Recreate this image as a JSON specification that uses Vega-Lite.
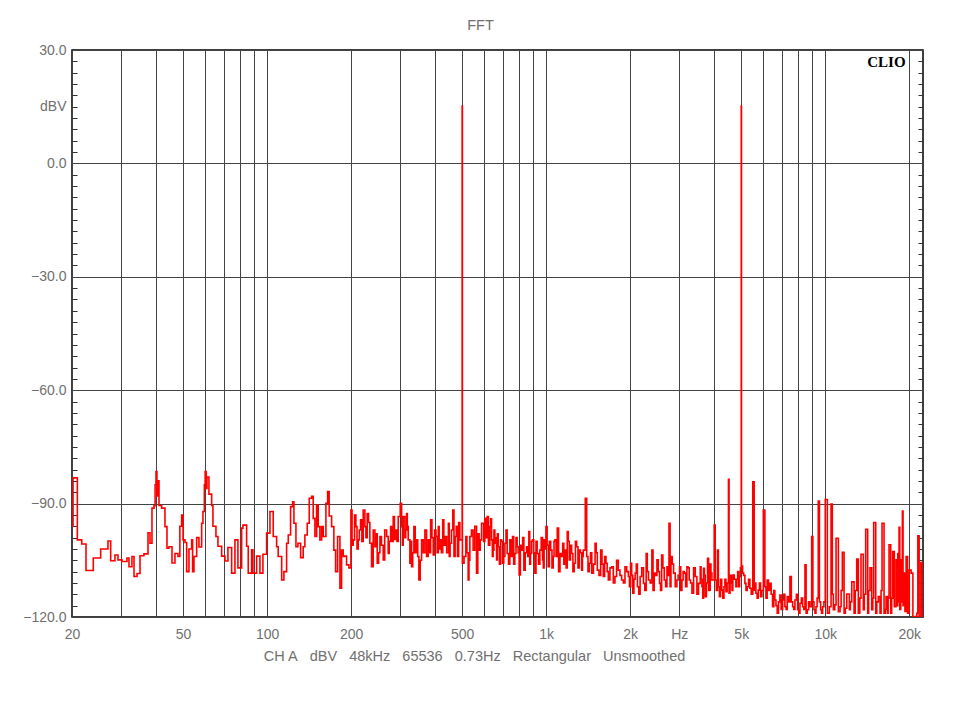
{
  "$schema": "https://vega.github.io/schema/vega-lite/v6.json",
  "width": 851,
  "height": 567,
  "autosize": "none",
  "padding": {"left": 72, "top": 50, "right": 37, "bottom": 103},
  "background": "white",
  "title": {"text": "FFT", "anchor": "middle", "fontSize": 14.5, "fontWeight": "normal", "font": "Liberation Sans", "color": "#707070", "offset": 10, "dx": -17},
  "config": {"view": {"stroke": "black", "strokeWidth": 1.5}},
  "datasets": {
    "fft": [
      {"f": 20, "db": -96}, {"f": 20.17, "db": -83.2}, {"f": 20.9, "db": -99.6}, {"f": 21.67, "db": -100.7}, {"f": 22.45, "db": -107.7},
      {"f": 23.84, "db": -104.4}, {"f": 25.34, "db": -102.0}, {"f": 26.91, "db": -99.9}, {"f": 27.52, "db": -105.1}, {"f": 28.51, "db": -103.6},
      {"f": 29.23, "db": -104.9}, {"f": 30.2, "db": -105.3}, {"f": 31.48, "db": -104.4}, {"f": 32.0, "db": -106.7}, {"f": 32.8, "db": -104.0},
      {"f": 33.36, "db": -109.3}, {"f": 34.2, "db": -108.5}, {"f": 35.05, "db": -103.8}, {"f": 36.2, "db": -103.3}, {"f": 37.44, "db": -97.7},
      {"f": 38.06, "db": -100.5}, {"f": 38.69, "db": -91.2}, {"f": 39.34, "db": -90.6}, {"f": 39.7, "db": -85.0}, {"f": 40.0, "db": -81.5},
      {"f": 40.3, "db": -88.0}, {"f": 40.6, "db": -84.0}, {"f": 41.0, "db": -90.5}, {"f": 41.9, "db": -91.2}, {"f": 43.07, "db": -96.1},
      {"f": 43.79, "db": -101.8}, {"f": 44.5, "db": -101.4}, {"f": 45.64, "db": -105.7}, {"f": 46.77, "db": -103.2}, {"f": 47.94, "db": -104.0},
      {"f": 48.7, "db": -96.0}, {"f": 49.42, "db": -93.0}, {"f": 50.0, "db": -99.6}, {"f": 50.8, "db": -100.3}, {"f": 51.51, "db": -108.0},
      {"f": 52.5, "db": -102.0}, {"f": 53.68, "db": -99.6}, {"f": 54.1, "db": -108.0}, {"f": 54.71, "db": -104.0}, {"f": 55.94, "db": -99.0},
      {"f": 57.01, "db": -101.5}, {"f": 58.29, "db": -95.2}, {"f": 58.92, "db": -92.1}, {"f": 59.6, "db": -85.0}, {"f": 60.0, "db": -81.5},
      {"f": 60.5, "db": -86.0}, {"f": 60.9, "db": -83.0}, {"f": 61.9, "db": -87.5}, {"f": 63.3, "db": -90.5}, {"f": 63.98, "db": -96.0},
      {"f": 65.58, "db": -98.7}, {"f": 66.68, "db": -101.3}, {"f": 68.74, "db": -103.9}, {"f": 70.64, "db": -105.2}, {"f": 72.4, "db": -101.6},
      {"f": 74.65, "db": -108.4}, {"f": 76.71, "db": -99.6}, {"f": 78.63, "db": -107.0}, {"f": 81.07, "db": -96.5}, {"f": 81.94, "db": -95.7},
      {"f": 84.48, "db": -101.3}, {"f": 85.6, "db": -108.4}, {"f": 88.04, "db": -102.2}, {"f": 88.99, "db": -108.4}, {"f": 91.74, "db": -103.9},
      {"f": 94.28, "db": -108.4}, {"f": 96.64, "db": -103.4}, {"f": 99.63, "db": -97.8}, {"f": 102.4, "db": -92.1}, {"f": 105.2, "db": -98.7},
      {"f": 108.2, "db": -101.4}, {"f": 109.6, "db": -104.0}, {"f": 112.8, "db": -110.2}, {"f": 114.9, "db": -108.0}, {"f": 117.5, "db": -100.5},
      {"f": 119.1, "db": -98.3}, {"f": 121.4, "db": -90.8}, {"f": 123.5, "db": -89.5}, {"f": 124.8, "db": -95.2}, {"f": 126.9, "db": -101.4},
      {"f": 129.0, "db": -100.5}, {"f": 131.9, "db": -104.3}, {"f": 134.7, "db": -101.4}, {"f": 136.6, "db": -98.3}, {"f": 139.3, "db": -95.2},
      {"f": 141.6, "db": -88.6}, {"f": 144.4, "db": -88.1}, {"f": 146.3, "db": -93.9}, {"f": 148.4, "db": -98.7}, {"f": 150.5, "db": -90.4},
      {"f": 152.5, "db": -96.1}, {"f": 154.6, "db": -99.6}, {"f": 156.8, "db": -96.1}, {"f": 158.9, "db": -98.7}, {"f": 162.5, "db": -89.9},
      {"f": 164.8, "db": -86.8}, {"f": 166.9, "db": -93.3}, {"f": 170.3, "db": -96.1}, {"f": 173.5, "db": -102.3}, {"f": 176.0, "db": -108.0},
      {"f": 178.9, "db": -98.7}, {"f": 182.4, "db": -112.4}, {"f": 184.9, "db": -102.3}, {"f": 187.4, "db": -104.0}, {"f": 190.0, "db": -103.9},
      {"f": 192.7, "db": -106.2}, {"f": 196.4, "db": -107.0}, {"f": 199.7, "db": -91.7}, {"f": 203.5, "db": -99.6}, {"f": 208.1, "db": -96.1},
      {"f": 212.1, "db": -99.6}, {"f": 216.3, "db": -94.3}, {"f": 221.0, "db": -91.7}, {"f": 224.1, "db": -96.1}, {"f": 228.4, "db": -92.6},
      {"f": 233.5, "db": -100.5}, {"f": 236.8, "db": -106.7}, {"f": 243.4, "db": -101.4}, {"f": 248.1, "db": -105.8}, {"f": 253.7, "db": -98.7},
      {"f": 260.7, "db": -104.9}, {"f": 268.1, "db": -98.7}, {"f": 271.6, "db": -103.2}, {"f": 277.1, "db": -96.1}, {"f": 283.1, "db": -93.4},
      {"f": 289.4, "db": -97.0}, {"f": 295.0, "db": -93.4}, {"f": 300.0, "db": -89.9}, {"f": 303.4, "db": -96.1}, {"f": 307.4, "db": -93.4},
      {"f": 316.1, "db": -92.6}, {"f": 320.3, "db": -99.6}, {"f": 324.9, "db": -105.8}, {"f": 329.5, "db": -106.7}, {"f": 335.8, "db": -96.1},
      {"f": 343.3, "db": -99.6}, {"f": 349.9, "db": -110.2}, {"f": 357.8, "db": -99.6}, {"f": 367.7, "db": -97.0}, {"f": 377.9, "db": -99.6},
      {"f": 385.5, "db": -94.3}, {"f": 393.9, "db": -103.6}, {"f": 402.9, "db": -98.7}, {"f": 410.7, "db": -96.1}, {"f": 416.5, "db": -99.6},
      {"f": 426.0, "db": -94.3}, {"f": 434.2, "db": -98.7}, {"f": 446.3, "db": -95.2}, {"f": 452.7, "db": -100.5}, {"f": 462.9, "db": -91.7},
      {"f": 471.9, "db": -98.7}, {"f": 481.0, "db": -104.0}, {"f": 490.6, "db": -99.6}, {"f": 500, "db": 15.2}, {"f": 501, "db": -105.8},
      {"f": 515.5, "db": -98.7}, {"f": 525.4, "db": -110.2}, {"f": 532.8, "db": -98.7}, {"f": 547.4, "db": -102.3}, {"f": 563.0, "db": -108.4},
      {"f": 575.2, "db": -102.3}, {"f": 580.5, "db": -99.6}, {"f": 586.8, "db": -95.2}, {"f": 592.0, "db": -95.2}, {"f": 602.8, "db": -93.9},
      {"f": 614.5, "db": -93.4}, {"f": 628.4, "db": -96.1}, {"f": 637.3, "db": -99.6}, {"f": 645.7, "db": -102.3}, {"f": 654.9, "db": -100.5},
      {"f": 664.2, "db": -104.9}, {"f": 673.1, "db": -101.4}, {"f": 686.6, "db": -99.6}, {"f": 698.0, "db": -105.8}, {"f": 711.5, "db": -100.5},
      {"f": 724.8, "db": -103.2}, {"f": 741.1, "db": -99.6}, {"f": 757.7, "db": -98.7}, {"f": 772.2, "db": -103.2}, {"f": 787.1, "db": -101.4},
      {"f": 800.2, "db": -108.9}, {"f": 816.2, "db": -102.3}, {"f": 832.0, "db": -107.6}, {"f": 850.7, "db": -101.4}, {"f": 866.9, "db": -97.4},
      {"f": 879.2, "db": -103.2}, {"f": 893.8, "db": -99.6}, {"f": 910.9, "db": -108.4}, {"f": 928.3, "db": -103.2}, {"f": 949.2, "db": -102.3},
      {"f": 970.4, "db": -104.9}, {"f": 983.3, "db": -99.6}, {"f": 998, "db": -96.1}, {"f": 1017, "db": -106.7}, {"f": 1038, "db": -102.3},
      {"f": 1060, "db": -104.0}, {"f": 1075, "db": -99.6}, {"f": 1096, "db": -96.5}, {"f": 1121, "db": -103.2}, {"f": 1146, "db": -100.5},
      {"f": 1168, "db": -102.3}, {"f": 1190, "db": -97.4}, {"f": 1210, "db": -104.9}, {"f": 1234, "db": -103.2}, {"f": 1260, "db": -105.8},
      {"f": 1286, "db": -101.4}, {"f": 1314, "db": -102.3}, {"f": 1340, "db": -107.6}, {"f": 1358, "db": -102.3}, {"f": 1381, "db": -88.6},
      {"f": 1397, "db": -104.0}, {"f": 1428, "db": -105.8}, {"f": 1457, "db": -108.4}, {"f": 1497, "db": -100.5}, {"f": 1525, "db": -107.6},
      {"f": 1568, "db": -102.3}, {"f": 1602, "db": -109.3}, {"f": 1638, "db": -105.8}, {"f": 1670, "db": -110.2}, {"f": 1717, "db": -106.7},
      {"f": 1764, "db": -109.3}, {"f": 1813, "db": -107.6}, {"f": 1864, "db": -110.2}, {"f": 1916, "db": -106.7}, {"f": 1970, "db": -109.3},
      {"f": 2007, "db": -105.8}, {"f": 2043, "db": -113.7}, {"f": 2083, "db": -108.4}, {"f": 2123, "db": -112.0}, {"f": 2171, "db": -109.3},
      {"f": 2232, "db": -111.1}, {"f": 2282, "db": -103.2}, {"f": 2326, "db": -110.2}, {"f": 2392, "db": -102.3}, {"f": 2439, "db": -108.4},
      {"f": 2494, "db": -104.9}, {"f": 2548, "db": -111.1}, {"f": 2593, "db": -103.6}, {"f": 2649, "db": -110.2}, {"f": 2709, "db": -106.7},
      {"f": 2755, "db": -95.2}, {"f": 2800, "db": -104.0}, {"f": 2861, "db": -108.4}, {"f": 2941, "db": -110.2}, {"f": 3005, "db": -106.7},
      {"f": 3065, "db": -110.2}, {"f": 3123, "db": -108.4}, {"f": 3194, "db": -106.7}, {"f": 3255, "db": -110.2}, {"f": 3329, "db": -113.7},
      {"f": 3421, "db": -109.3}, {"f": 3515, "db": -111.1}, {"f": 3565, "db": -106.7}, {"f": 3615, "db": -112.0}, {"f": 3663, "db": -107.1},
      {"f": 3714, "db": -114.6}, {"f": 3786, "db": -104.5}, {"f": 3849, "db": -112.9}, {"f": 3894, "db": -108.4}, {"f": 3925, "db": -110.2},
      {"f": 4000, "db": -95.7}, {"f": 4033, "db": -110.2}, {"f": 4109, "db": -102.3}, {"f": 4140, "db": -112.0}, {"f": 4176, "db": -114.6},
      {"f": 4257, "db": -112.9}, {"f": 4336, "db": -112.0}, {"f": 4407, "db": -113.3}, {"f": 4500, "db": -83.6}, {"f": 4522, "db": -113.7},
      {"f": 4606, "db": -111.1}, {"f": 4665, "db": -108.9}, {"f": 4784, "db": -112.0}, {"f": 4855, "db": -108.0}, {"f": 4933, "db": -109.3},
      {"f": 5000, "db": 15.2}, {"f": 5010, "db": -106.5}, {"f": 5056, "db": -108.4}, {"f": 5153, "db": -111.1}, {"f": 5251, "db": -112.0},
      {"f": 5370, "db": -112.4}, {"f": 5500, "db": -84.2}, {"f": 5563, "db": -112.9}, {"f": 5642, "db": -113.7}, {"f": 5750, "db": -112.9},
      {"f": 5865, "db": -114.6}, {"f": 6000, "db": -91.7}, {"f": 6076, "db": -112.0}, {"f": 6192, "db": -110.2}, {"f": 6331, "db": -111.1},
      {"f": 6474, "db": -117.3}, {"f": 6599, "db": -115.5}, {"f": 6727, "db": -119.0}, {"f": 6879, "db": -114.2}, {"f": 7034, "db": -115.5},
      {"f": 7169, "db": -117.3}, {"f": 7307, "db": -114.6}, {"f": 7472, "db": -109.3}, {"f": 7641, "db": -117.3}, {"f": 7787, "db": -115.5},
      {"f": 7964, "db": -118.1}, {"f": 8117, "db": -116.4}, {"f": 8300, "db": -117.3}, {"f": 8460, "db": -106.2}, {"f": 8622, "db": -118.1},
      {"f": 8811, "db": -117.3}, {"f": 8941, "db": -98.7}, {"f": 9112, "db": -118.1}, {"f": 9263, "db": -117.3}, {"f": 9440, "db": -89.3},
      {"f": 9627, "db": -118.1}, {"f": 9786, "db": -117.3}, {"f": 10000, "db": -88.9}, {"f": 10175, "db": -119.0}, {"f": 10344, "db": -117.3},
      {"f": 10490, "db": -90.1}, {"f": 10600, "db": -114.0}, {"f": 10691, "db": -118.1}, {"f": 10816, "db": -116.8}, {"f": 10931, "db": -99.2},
      {"f": 11141, "db": -118.6}, {"f": 11299, "db": -117.3}, {"f": 11400, "db": -113.0}, {"f": 11515, "db": -102.9}, {"f": 11680, "db": -119.0},
      {"f": 11803, "db": -117.7}, {"f": 11942, "db": -113.9}, {"f": 12199, "db": -118.1}, {"f": 12300, "db": -116.0}, {"f": 12444, "db": -110.7},
      {"f": 12683, "db": -119.0}, {"f": 12800, "db": -113.0}, {"f": 12965, "db": -104.7}, {"f": 13135, "db": -119.0}, {"f": 13300, "db": -115.0},
      {"f": 13431, "db": -103.4}, {"f": 13688, "db": -118.1}, {"f": 13800, "db": -114.0}, {"f": 13962, "db": -96.8}, {"f": 14193, "db": -119.0},
      {"f": 14300, "db": -113.0}, {"f": 14466, "db": -107.0}, {"f": 14671, "db": -118.1}, {"f": 14800, "db": -115.0}, {"f": 14916, "db": -95.0},
      {"f": 15168, "db": -119.0}, {"f": 15300, "db": -116.0}, {"f": 15495, "db": -114.6}, {"f": 15714, "db": -119.0}, {"f": 15850, "db": -113.0},
      {"f": 15977, "db": -95.2}, {"f": 16243, "db": -119.0}, {"f": 16400, "db": -118.0}, {"f": 16515, "db": -114.6}, {"f": 16691, "db": -119.0},
      {"f": 16800, "db": -115.0}, {"f": 16926, "db": -100.9}, {"f": 17163, "db": -119.0}, {"f": 17300, "db": -115.0}, {"f": 17449, "db": -102.7},
      {"f": 17680, "db": -117.3}, {"f": 17933, "db": -104.9}, {"f": 18050, "db": -117.0}, {"f": 18189, "db": -103.2}, {"f": 18300, "db": -116.0},
      {"f": 18386, "db": -96.3}, {"f": 18500, "db": -118.0}, {"f": 18646, "db": -104.9}, {"f": 18750, "db": -116.0}, {"f": 18896, "db": -92.0},
      {"f": 19000, "db": -117.0}, {"f": 19165, "db": -108.4}, {"f": 19300, "db": -118.5}, {"f": 19488, "db": -104.0}, {"f": 19733, "db": -119.0},
      {"f": 20000, "db": -107.6}, {"f": 20314, "db": -108.4}, {"f": 20608, "db": -119.9}, {"f": 20998, "db": -119.9}, {"f": 21291, "db": -119.0},
      {"f": 21467, "db": -98.5}, {"f": 21696, "db": -119.9}, {"f": 22009, "db": -105.6}, {"f": 22192, "db": -119.9}, {"f": 22400, "db": -119.9},
      {"f": 201.6, "db": -101}, {"f": 205.8, "db": -93}, {"f": 210, "db": -102}, {"f": 214, "db": -97}, {"f": 218.6, "db": -100},
      {"f": 226, "db": -99}, {"f": 231, "db": -95}, {"f": 240, "db": -97}, {"f": 245.7, "db": -98}, {"f": 251, "db": -103},
      {"f": 257, "db": -101}, {"f": 264, "db": -97}, {"f": 274, "db": -100}, {"f": 280, "db": -100}, {"f": 286, "db": -99.5},
      {"f": 292, "db": -100}, {"f": 305.4, "db": -101}, {"f": 311.7, "db": -99}, {"f": 313.9, "db": -97}, {"f": 318, "db": -96},
      {"f": 327, "db": -100}, {"f": 332.6, "db": -103}, {"f": 339.5, "db": -103}, {"f": 346.6, "db": -104}, {"f": 353.8, "db": -105},
      {"f": 362.7, "db": -103}, {"f": 372.8, "db": -104}, {"f": 381.7, "db": -103}, {"f": 389.7, "db": -99}, {"f": 398.4, "db": -97},
      {"f": 406.8, "db": -103}, {"f": 413.6, "db": -102}, {"f": 421.2, "db": -103}, {"f": 430, "db": -101}, {"f": 440, "db": -103},
      {"f": 449.5, "db": -104}, {"f": 457.8, "db": -97}, {"f": 467.4, "db": -104}, {"f": 476.4, "db": -96}, {"f": 485.8, "db": -95},
      {"f": 508, "db": -104}, {"f": 520, "db": -103}, {"f": 529, "db": -105}, {"f": 540, "db": -97}, {"f": 555, "db": -96},
      {"f": 569, "db": -98}, {"f": 597, "db": -100}, {"f": 608, "db": -99}, {"f": 621, "db": -101}, {"f": 632.8, "db": -94},
      {"f": 641.5, "db": -104}, {"f": 650, "db": -97}, {"f": 659.5, "db": -99}, {"f": 668.6, "db": -98}, {"f": 680, "db": -106},
      {"f": 692, "db": -100}, {"f": 704.7, "db": -104}, {"f": 718, "db": -97}, {"f": 733, "db": -106}, {"f": 749.4, "db": -104},
      {"f": 765, "db": -106}, {"f": 779.6, "db": -99}, {"f": 793.6, "db": -103}, {"f": 808.2, "db": -101}, {"f": 824, "db": -99},
      {"f": 841, "db": -103}, {"f": 858.8, "db": -104}, {"f": 873, "db": -106}, {"f": 886.5, "db": -100}, {"f": 902, "db": -103},
      {"f": 919.6, "db": -100}, {"f": 938.7, "db": -106}, {"f": 959.8, "db": -99}, {"f": 976.8, "db": -107}, {"f": 990.6, "db": -102},
      {"f": 1008, "db": -101}, {"f": 1027, "db": -100}, {"f": 1049, "db": -107}, {"f": 1067, "db": -100}, {"f": 1085, "db": -104},
      {"f": 1108, "db": -108}, {"f": 1133, "db": -104}, {"f": 1157, "db": -106}, {"f": 1179, "db": -107}, {"f": 1200, "db": -100},
      {"f": 1222, "db": -101}, {"f": 1247, "db": -108}, {"f": 1273, "db": -100}, {"f": 1300, "db": -107}, {"f": 1327, "db": -103},
      {"f": 1349, "db": -104}, {"f": 1412, "db": -108}, {"f": 1442, "db": -103}, {"f": 1477, "db": -106}, {"f": 1511, "db": -103},
      {"f": 1546, "db": -109}, {"f": 1585, "db": -106}, {"f": 1620, "db": -104}, {"f": 1654, "db": -108}, {"f": 1693, "db": -107},
      {"f": 1740, "db": -111}, {"f": 1788, "db": -105}, {"f": 1838, "db": -109}, {"f": 1890, "db": -111}, {"f": 1943, "db": -108},
      {"f": 1988, "db": -112}, {"f": 2025, "db": -109}, {"f": 2063, "db": -110}, {"f": 2103, "db": -106}, {"f": 2147, "db": -114},
      {"f": 2200, "db": -107}, {"f": 2257, "db": -113}, {"f": 2303, "db": -108}, {"f": 2358, "db": -111}, {"f": 2415, "db": -113},
      {"f": 2466, "db": -109}, {"f": 2520, "db": -108}, {"f": 2570, "db": -113}, {"f": 2620, "db": -107}, {"f": 2680, "db": -112},
      {"f": 2730, "db": -109}, {"f": 2780, "db": -112}, {"f": 2830, "db": -106}, {"f": 2900, "db": -112}, {"f": 2970, "db": -109},
      {"f": 3035, "db": -113}, {"f": 3095, "db": -108}, {"f": 3160, "db": -112}, {"f": 3225, "db": -107}, {"f": 3290, "db": -111},
      {"f": 3375, "db": -107}, {"f": 3468, "db": -114}, {"f": 3590, "db": -110}, {"f": 3640, "db": -115}, {"f": 3690, "db": -109},
      {"f": 3750, "db": -111}, {"f": 3820, "db": -113}, {"f": 3870, "db": -106}, {"f": 4070, "db": -113}, {"f": 4215, "db": -110},
      {"f": 4295, "db": -115}, {"f": 4370, "db": -110}, {"f": 4450, "db": -111}, {"f": 4560, "db": -109}, {"f": 4635, "db": -113},
      {"f": 4720, "db": -110}, {"f": 4820, "db": -110}, {"f": 4895, "db": -112}, {"f": 4965, "db": -107}, {"f": 5100, "db": -109},
      {"f": 5200, "db": -113}, {"f": 5310, "db": -110}, {"f": 5430, "db": -114}, {"f": 5600, "db": -111}, {"f": 5700, "db": -115},
      {"f": 5810, "db": -111}, {"f": 5930, "db": -113}, {"f": 6130, "db": -115}, {"f": 6260, "db": -113}, {"f": 6400, "db": -114},
      {"f": 6540, "db": -113}, {"f": 6660, "db": -117}, {"f": 6800, "db": -116}, {"f": 6950, "db": -118}, {"f": 7100, "db": -114},
      {"f": 7240, "db": -118}, {"f": 7390, "db": -116}, {"f": 7560, "db": -116}, {"f": 7710, "db": -118}, {"f": 7880, "db": -114},
      {"f": 8040, "db": -119}, {"f": 8210, "db": -115}, {"f": 8380, "db": -118}, {"f": 8540, "db": -119}, {"f": 8720, "db": -116},
      {"f": 9030, "db": -116}, {"f": 9190, "db": -119}, {"f": 9350, "db": -115}, {"f": 9530, "db": -116}, {"f": 9700, "db": -119},
      {"f": 9890, "db": -116}
    ],
    "brand": [{"label": "CLIO", "f": 19400, "db": 26.8}]
  },
  "layer": [
    {
      "data": {"name": "fft"},
      "mark": {"type": "line", "color": "#ff0000", "strokeWidth": 1.6, "interpolate": "step-after", "clip": true},
      "encoding": {
        "x": {
          "field": "f", "type": "quantitative",
          "scale": {"type": "log", "domain": [20, 22400], "nice": false},
          "axis": {
            "title": "CH A\u00a0\u00a0\u00a0dBV\u00a0\u00a0\u00a048kHz\u00a0\u00a0\u00a065536\u00a0\u00a0\u00a00.73Hz\u00a0\u00a0\u00a0Rectangular\u00a0\u00a0\u00a0Unsmoothed",
            "titleFont": "Liberation Sans", "titleFontSize": 14.5, "titleFontWeight": "normal", "titleColor": "#707070",
            "titleX": 402, "titleY": 32, "titleBaseline": "top",
            "values": [20, 30, 40, 50, 60, 70, 80, 90, 100, 200, 300, 400, 500, 600, 700, 800, 900, 1000, 2000, 3000, 4000, 5000, 6000, 7000, 8000, 9000, 10000, 20000],
            "labelExpr": "indexof([20, 50, 100, 200, 500], datum.value) >= 0 ? datum.value + '' : datum.value == 1000 ? '1k' : datum.value == 2000 ? '2k' : datum.value == 3000 ? 'Hz' : datum.value == 5000 ? '5k' : datum.value == 10000 ? '10k' : datum.value == 20000 ? '20k' : ''",
            "labelFont": "Liberation Sans", "labelFontSize": 14, "labelColor": "#707070",
            "labelOverlap": false, "labelFlush": false, "labelPadding": 10,
            "ticks": false, "domain": false,
            "grid": true, "gridColor": "#444444", "gridWidth": 1, "gridOpacity": 1
          }
        },
        "y": {
          "field": "db", "type": "quantitative",
          "scale": {"domain": [-120, 30], "nice": false},
          "axis": {
            "orient": "left", "title": null,
            "values": [-120, -90, -60, -30, 0, 15, 30],
            "labelExpr": "datum.value == 15 ? 'dBV' : format(datum.value, '.1f')",
            "labelFont": "Liberation Sans", "labelFontSize": 14, "labelColor": "#707070",
            "labelOverlap": false, "labelFlush": false, "labelPadding": 11,
            "ticks": true, "tickSize": -5, "tickOpacity": 0,
            "domain": false,
            "grid": true, "gridColor": "#444444", "gridWidth": 1,
            "gridOpacity": {"condition": {"test": "datum.value == 15", "value": 0}, "value": 1}
          }
        }
      }
    },
    {
      "data": {"name": "brand"},
      "mark": {"type": "text", "align": "right", "baseline": "middle", "font": "Liberation Serif", "fontWeight": "bold", "fontSize": 15, "color": "black"},
      "encoding": {
        "x": {"field": "f", "type": "quantitative"},
        "y": {
          "field": "db", "type": "quantitative",
          "axis": {
            "orient": "right", "title": null, "labels": false, "grid": false, "domain": false, "offset": -5,
            "values": [-117, -114, -111, -108, -105, -102, -99, -96, -93, -87, -84, -81, -78, -75, -72, -69, -66, -63, -57, -54, -51, -48, -45, -42, -39, -36, -33, -27, -24, -21, -18, -15, -12, -9, -6, -3, 3, 6, 9, 12, 15, 18, 21, 24, 27],
            "ticks": true, "tickSize": 5, "tickColor": "#333333", "tickWidth": 1
          }
        },
        "text": {"field": "label", "type": "nominal"}
      }
    },
    {
      "data": {"name": "brand"},
      "mark": {"type": "text", "opacity": 0},
      "encoding": {
        "x": {"field": "f", "type": "quantitative"},
        "y": {
          "field": "db", "type": "quantitative",
          "axis": {
            "orient": "left", "title": null, "labels": false, "grid": false, "domain": false, "offset": -5,
            "values": [-117, -114, -111, -108, -105, -102, -99, -96, -93, -87, -84, -81, -78, -75, -72, -69, -66, -63, -57, -54, -51, -48, -45, -42, -39, -36, -33, -27, -24, -21, -18, -15, -12, -9, -6, -3, 3, 6, 9, 12, 15, 18, 21, 24, 27],
            "ticks": true, "tickSize": 5, "tickColor": "#333333", "tickWidth": 1
          }
        },
        "text": {"field": "label", "type": "nominal"}
      }
    }
  ],
  "resolve": {"scale": {"y": "shared"}, "axis": {"y": "independent"}}
}
